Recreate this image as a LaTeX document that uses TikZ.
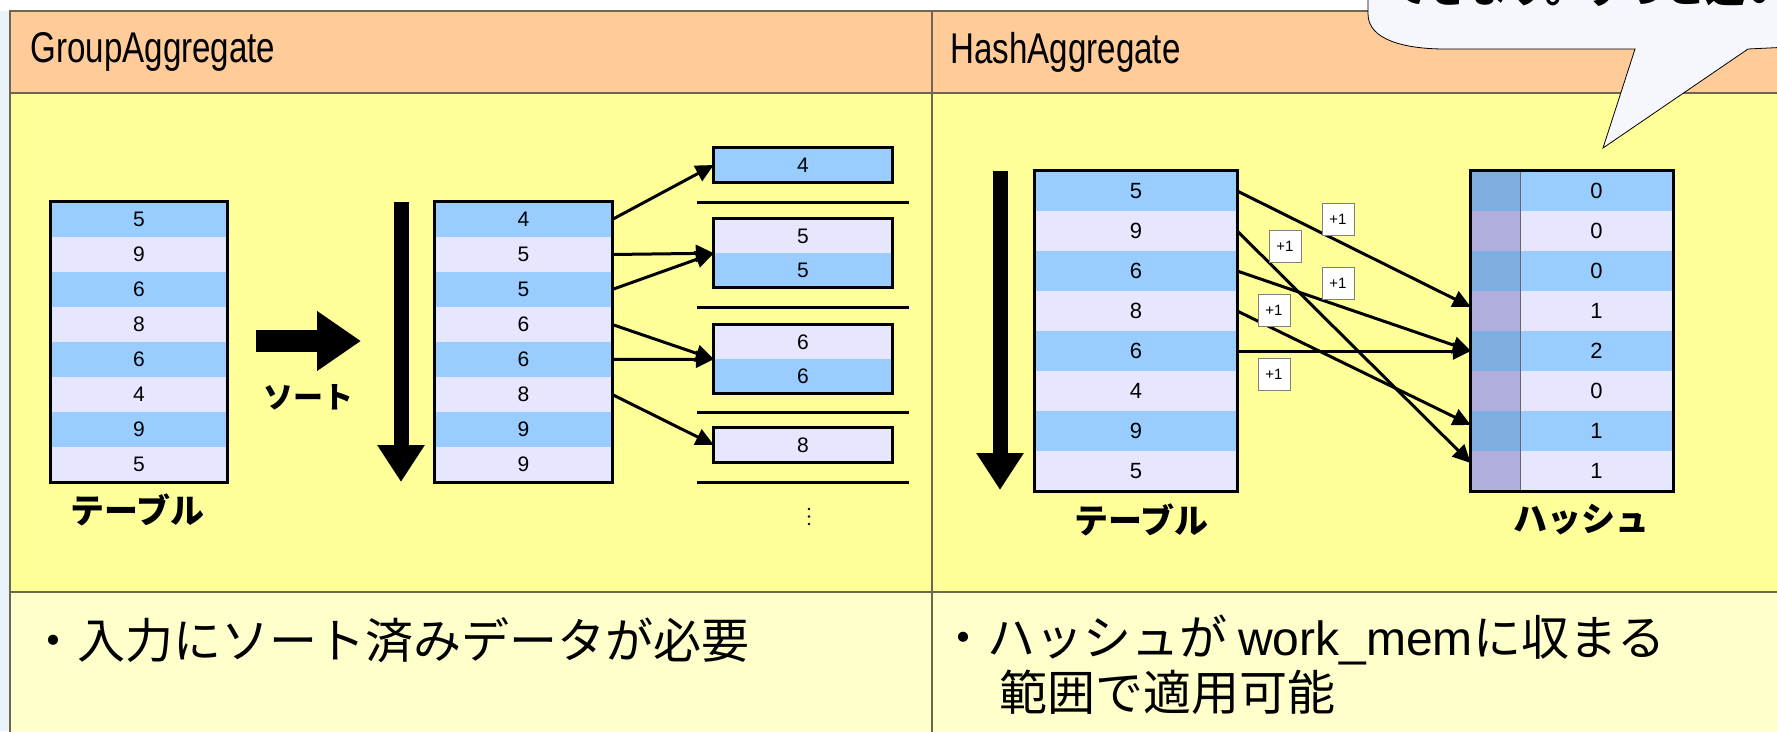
\documentclass[tikz,border=0pt]{standalone}
\usepackage{fontspec}
\setmainfont{Liberation Sans}
\newfontfamily\headfont[FakeStretch=0.77]{Liberation Sans}
\newfontfamily\jpfont{Noto Sans CJK JP}
\usetikzlibrary{arrows.meta, positioning}

\definecolor{headfill}{HTML}{FFCC99}
\definecolor{bodyfill}{HTML}{FFFF99}
\definecolor{notefill}{HTML}{FFFFCC}
\definecolor{rowblue}{HTML}{99CCFF}
\definecolor{rowlav}{HTML}{E6E6FF}
\definecolor{keyblue}{HTML}{7DAEDF}
\definecolor{keylav}{HTML}{AFAEDE}
\definecolor{gridline}{HTML}{6E6650}
\definecolor{slidebg}{HTML}{E9F3F9}
\definecolor{bubblefill}{HTML}{F6F7FC}

\begin{document}
\begin{tikzpicture}[x=1pt, y=-1pt,
	cell/.style={minimum height=35pt, inner sep=0pt, font=\fontsize{21}{21}\selectfont},
	flow/.style={line width=3pt, -{Triangle[length=18pt,width=17pt]}},
	plusbox/.style={draw=gray, fill=white, line width=0.8pt, minimum size=32pt, inner sep=0pt, font=\fontsize{15}{15}\selectfont},
	jplabel/.style={font=\jpfont\bfseries\fontsize{34}{34}\selectfont},
	note/.style={anchor=west, font=\jpfont\fontsize{48}{48}\selectfont}]

	\clip (0,0) rectangle (1777,731);
	\fill[white] (0,0) rectangle (1777,731);
	\fill[slidebg] (0,11) rectangle (10,731);

	% table frame
	\fill[headfill] (10,11) rectangle (1790,93);
	\fill[bodyfill] (10,93) rectangle (1790,592);
	\fill[notefill] (10,592) rectangle (1790,740);
	\draw[gridline, line width=1.5pt] (10,740) -- (10,11) -- (1790,11);
	\draw[gridline, line width=2pt] (10,93) -- (1790,93);
	\draw[gridline, line width=2pt] (10,592) -- (1790,592);
	\draw[gridline, line width=1.2pt] (932,11) -- (932,740);

	\node[anchor=west, font=\headfont\fontsize{43}{43}\selectfont] (ghead) at (27,52) {GroupAggregate};
	\node[anchor=west, font=\headfont\fontsize{43}{43}\selectfont] (hhead) at (947,52) {HashAggregate};

	% GroupAggregate
	\foreach \v [count=\i] in {5,9,6,8,6,4,9,5} {
		\ifodd\i \def\rc{rowblue}\else\def\rc{rowlav}\fi
		\node[cell, fill=\rc, minimum width=176pt] (a\i) at (139, 184.5+35*\i) {\v};
	}
	\draw[line width=3pt] (a1.north west) rectangle (a8.south east);
	\node[jplabel] (alab) at (137,510) {テーブル};

	\draw[line width=22pt, -{Triangle[length=44pt,width=57pt]}] (256,341) -- (361,341);
	\node[jplabel, font=\jpfont\bfseries\fontsize{30}{30}\selectfont] (sortlab) at (308,397) {ソート};

	\draw[line width=15pt, -{Triangle[length=37pt,width=45pt]}] (401,202) -- (401,482);

	\foreach \v [count=\i] in {4,5,5,6,6,8,9,9} {
		\ifodd\i \def\rc{rowblue}\else\def\rc{rowlav}\fi
		\node[cell, fill=\rc, minimum width=177pt] (b\i) at (523.5, 184.5+35*\i) {\v};
	}
	\draw[line width=3pt] (b1.north west) rectangle (b8.south east);

	\node[cell, fill=rowblue, minimum width=178pt, minimum height=34pt] (g4) at (803,165) {4};
	\node[cell, fill=rowlav, minimum width=178pt, minimum height=34pt] (g5a) at (803,236) {5};
	\node[cell, fill=rowblue, minimum width=178pt, minimum height=34pt] (g5b) at (803,270) {5};
	\node[cell, fill=rowlav, minimum width=178pt, minimum height=34pt] (g6a) at (803,342) {6};
	\node[cell, fill=rowblue, minimum width=178pt, minimum height=34pt] (g6b) at (803,376) {6};
	\node[cell, fill=rowlav, minimum width=178pt, minimum height=34pt] (g8) at (803,445) {8};
	\draw[line width=3pt] (g4.north west) rectangle (g4.south east);
	\draw[line width=3pt] (g5a.north west) rectangle (g5b.south east);
	\draw[line width=3pt] (g6a.north west) rectangle (g6b.south east);
	\draw[line width=3pt] (g8.north west) rectangle (g8.south east);
	\foreach \y in {202,307,412,482}
		\draw[line width=3pt] (697,\y) -- (909,\y);
	\foreach \d in {0,1,2}
		\fill (809,509+7.5*\d) circle (1.4pt);

	\draw[flow] (b1.east) -- (g4.west);
	\draw[flow] (b2.east) -- (g5a.south west);
	\draw[flow] (b3.east) -- (g5a.south west);
	\draw[flow] (b4.east) -- (g6a.south west);
	\draw[flow] (b5.east) -- (g6a.south west);
	\draw[flow] (b6.east) -- (g8.west);

	% HashAggregate
	\draw[line width=15pt, -{Triangle[length=37pt,width=45pt]}] (1000,171) -- (1000,490);

	\foreach \v [count=\i] in {5,9,6,8,6,4,9,5} {
		\ifodd\i \def\rc{rowblue}\else\def\rc{rowlav}\fi
		\node[cell, fill=\rc, minimum width=202pt, minimum height=40pt, font=\fontsize{22}{22}\selectfont] (t\i) at (1136, 151+40*\i) {\v};
	}
	\draw[line width=3pt] (t1.north west) rectangle (t8.south east);
	\node[jplabel] (tlab) at (1141,520) {テーブル};

	\foreach \v [count=\i] in {0,0,0,1,2,0,1,1} {
		\ifodd\i \def\rc{rowblue}\def\kc{keyblue}\else\def\rc{rowlav}\def\kc{keylav}\fi
		\node[cell, fill=\kc, minimum width=49pt, minimum height=40pt] (k\i) at (1495.5, 151+40*\i) {};
		\node[cell, fill=\rc, minimum width=153pt, minimum height=40pt, font=\fontsize{22}{22}\selectfont] (h\i) at (1596.5, 151+40*\i) {\v};
	}
	\draw[black!60, line width=0.8pt] (k1.north east) -- (k8.south east);
	\draw[line width=3pt] (k1.north west) rectangle (h8.south east);
	\node[jplabel] (hlab) at (1581,520) {ハッシュ};

	\draw[flow] (t1.east) -- ([yshift=4pt]k4.west);
	\draw[flow] (t2.east) -- ([yshift=8pt]k8.west);
	\draw[flow] (t3.east) -- (k5.west);
	\draw[flow] (t4.east) -- ([yshift=6pt]k7.west);
	\draw[flow] (t5.east) -- (k5.west);

	\node[plusbox] (p1) at (1338,219) {+1};
	\node[plusbox] (p2) at (1285,246) {+1};
	\node[plusbox] (p3) at (1338,283) {+1};
	\node[plusbox] (p4) at (1274,310) {+1};
	\node[plusbox] (p5) at (1274,374) {+1};

	% notes
	\node[note] (gnote) at (26,640) {・入力にソート済みデータが必要};
	\node[note] (hnote) at (936,640) {・ハッシュが {\rmfamily work\_mem}に収まる};
	\node[note] (hnote2) at (996,692) {範囲で適用可能};

	% callout
	\draw[fill=bubblefill, line width=0.8pt] (1368,-5) -- (1368,14) .. controls (1368,40) and (1405,49) .. (1445,49)
		-- (1635,49) -- (1603,148) -- (1748,49) -- (1790,47) -- (1790,-5) -- cycle;
	\node[anchor=base west, font=\jpfont\bfseries\fontsize{40}{40}\selectfont] (callout) at (1386,2) {できます。ずっと速い};
\end{tikzpicture}
\end{document}
